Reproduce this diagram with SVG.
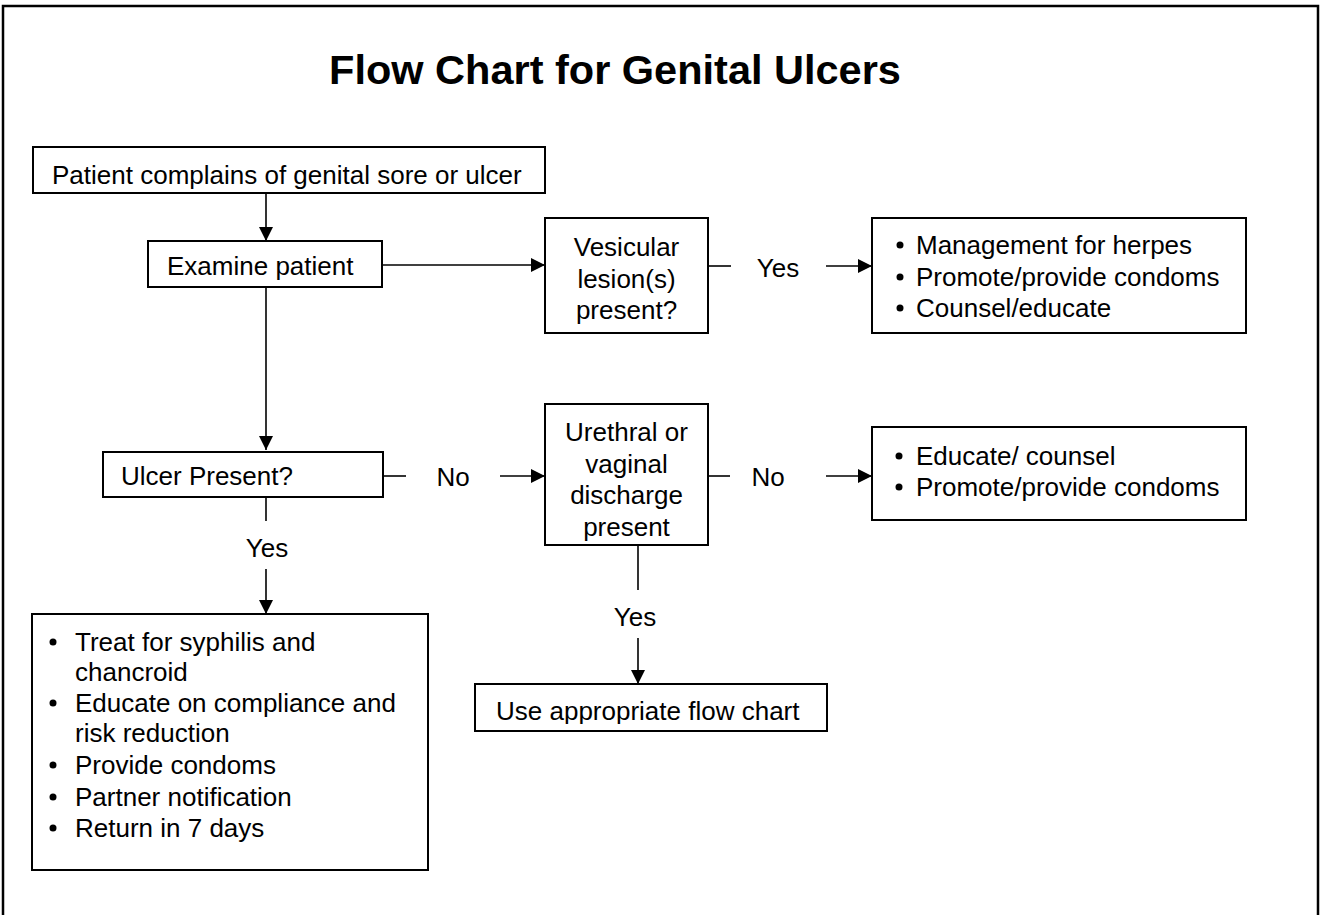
<svg xmlns="http://www.w3.org/2000/svg" width="1324" height="915" viewBox="0 0 1324 915">
<style>
.box{fill:#fff;stroke:#000;stroke-width:2}
.t{font-family:"Liberation Sans",Arial,sans-serif;font-size:26px;fill:#000}
.c{text-anchor:middle}
.ttl{font-family:"Liberation Sans",Arial,sans-serif;font-size:41.5px;font-weight:bold;text-anchor:middle;fill:#000}
.ln{stroke:#000;stroke-width:1.6;fill:none}
.arr{stroke:#000;stroke-width:1.6;fill:none;marker-end:url(#ah)}
</style>
<defs>
<marker id="ah" markerUnits="userSpaceOnUse" markerWidth="14" markerHeight="14" refX="14" refY="7" orient="auto">
<path d="M0,0 L14,7 L0,14 z" fill="#000"/>
</marker>
<clipPath id="clip1"><rect x="33" y="147" width="512" height="42"/></clipPath>
<clipPath id="clip2"><rect x="475" y="684" width="352" height="40"/></clipPath>
</defs>
<rect width="1324" height="915" fill="#fff"/>
<path d="M3,930 V6 H1318 V930" fill="none" stroke="#000" stroke-width="2.5"/>
<text class="ttl" x="615" y="84">Flow Chart for Genital Ulcers</text>

<g id="connectors">
<line class="arr" x1="266" y1="193" x2="266" y2="241"/>
<line class="arr" x1="382" y1="265" x2="545" y2="265"/>
<line class="ln" x1="708" y1="266" x2="731" y2="266"/>
<line class="arr" x1="826" y1="266" x2="872" y2="266"/>
<line class="arr" x1="266" y1="287" x2="266" y2="450"/>
<line class="ln" x1="383" y1="476" x2="406" y2="476"/>
<line class="arr" x1="500" y1="476" x2="545" y2="476"/>
<line class="ln" x1="708" y1="476" x2="730" y2="476"/>
<line class="arr" x1="826" y1="476" x2="872" y2="476"/>
<line class="ln" x1="266" y1="497" x2="266" y2="521"/>
<line class="arr" x1="266" y1="569" x2="266" y2="614"/>
<line class="ln" x1="638" y1="543" x2="638" y2="590"/>
<line class="arr" x1="638" y1="638" x2="638" y2="684"/>
<text class="t c" x="778" y="277">Yes</text>
<text class="t c" x="453" y="486">No</text>
<text class="t c" x="768" y="486">No</text>
<text class="t c" x="267" y="557">Yes</text>
<text class="t c" x="635" y="626">Yes</text>
</g>

<g id="n-complains">
<rect class="box" x="33" y="147" width="512" height="46"/>
<text class="t" x="52" y="184" clip-path="url(#clip1)">Patient complains of genital sore or ulcer</text>
</g>

<g id="n-examine">
<rect class="box" x="148" y="241" width="234" height="46"/>
<text class="t" x="167" y="275">Examine patient</text>
</g>

<g id="n-vesicular">
<rect class="box" x="545" y="218" width="163" height="115"/>
<text class="t c" x="626.5" y="256">Vesicular</text>
<text class="t c" x="626.5" y="287.5">lesion(s)</text>
<text class="t c" x="626.5" y="319">present?</text>
</g>

<g id="n-herpes">
<rect class="box" x="872" y="218" width="374" height="115"/>
<circle cx="900" cy="245" r="3.5"/>
<circle cx="900" cy="277" r="3.5"/>
<circle cx="900" cy="308" r="3.5"/>
<text class="t" x="916" y="254">Management for herpes</text>
<text class="t" x="916" y="285.5">Promote/provide condoms</text>
<text class="t" x="916" y="317">Counsel/educate</text>
</g>

<g id="n-ulcer">
<rect class="box" x="103" y="452" width="280" height="45"/>
<text class="t" x="121" y="485">Ulcer Present?</text>
</g>

<g id="n-urethral">
<rect class="box" x="545" y="404" width="163" height="141"/>
<text class="t c" x="626.5" y="441">Urethral or</text>
<text class="t c" x="626.5" y="472.5">vaginal</text>
<text class="t c" x="626.5" y="504">discharge</text>
<text class="t c" x="626.5" y="535.5">present</text>
</g>

<g id="n-educate">
<rect class="box" x="872" y="427" width="374" height="93"/>
<circle cx="899" cy="456" r="3.5"/>
<circle cx="899" cy="487" r="3.5"/>
<text class="t" x="916" y="465">Educate/ counsel</text>
<text class="t" x="916" y="496">Promote/provide condoms</text>
</g>

<g id="n-treat">
<rect class="box" x="32" y="614" width="396" height="256"/>
<circle cx="53" cy="642" r="3.5"/>
<circle cx="53" cy="703" r="3.5"/>
<circle cx="53" cy="765" r="3.5"/>
<circle cx="53" cy="797" r="3.5"/>
<circle cx="53" cy="828" r="3.5"/>
<text class="t" x="75" y="651">Treat for syphilis and</text>
<text class="t" x="75" y="681">chancroid</text>
<text class="t" x="75" y="712">Educate on compliance and</text>
<text class="t" x="75" y="742">risk reduction</text>
<text class="t" x="75" y="774">Provide condoms</text>
<text class="t" x="75" y="806">Partner notification</text>
<text class="t" x="75" y="837">Return in 7 days</text>
</g>

<g id="n-appropriate">
<rect class="box" x="475" y="684" width="352" height="47"/>
<text class="t" x="496" y="720" clip-path="url(#clip2)">Use appropriate flow chart</text>
</g>
</svg>
